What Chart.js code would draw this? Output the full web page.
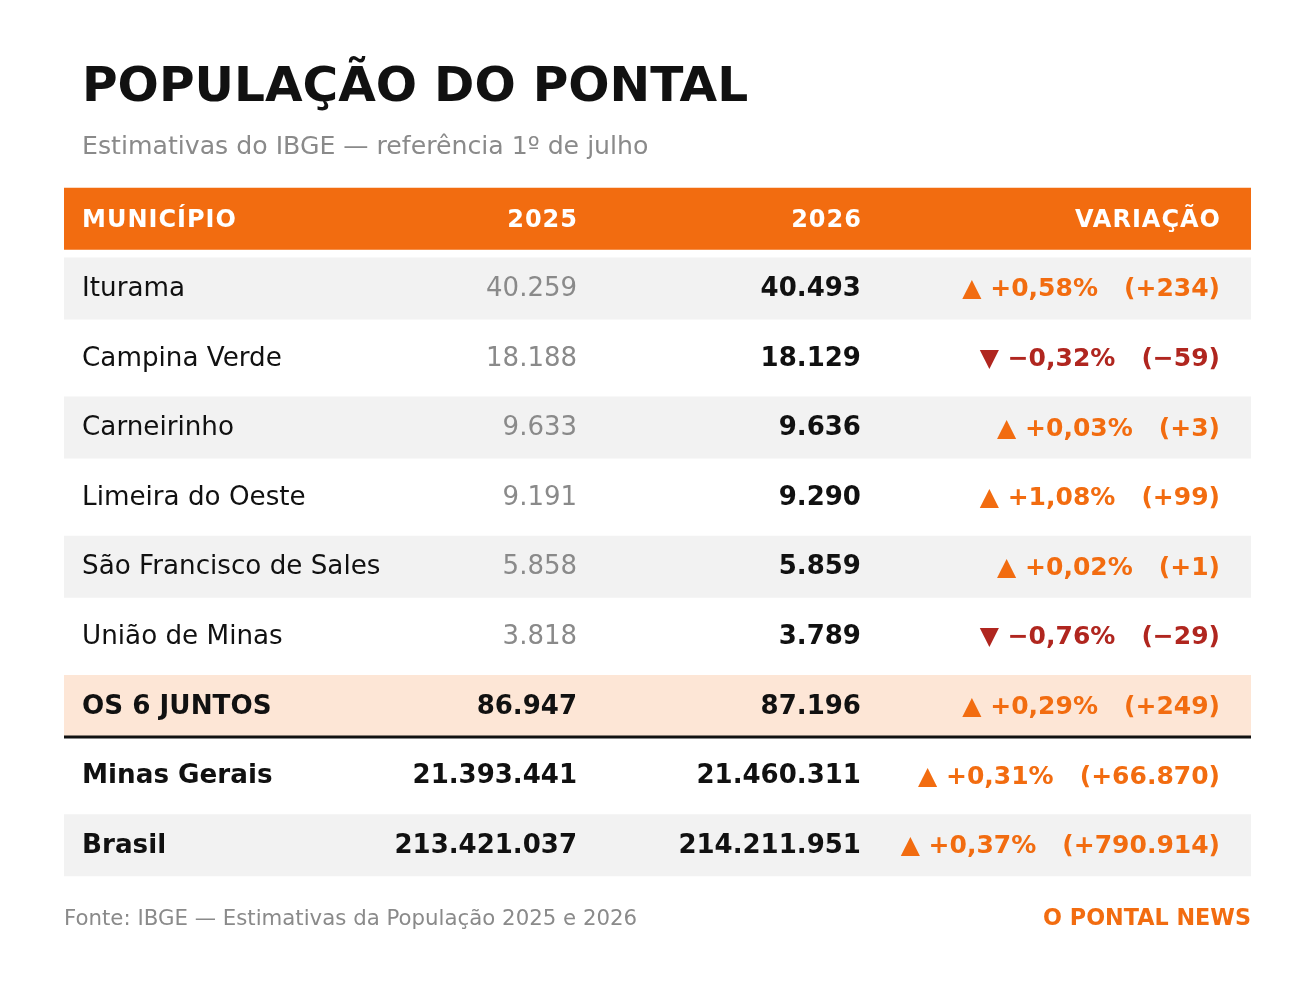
<!DOCTYPE html>
<html>
<head>
<meta charset="utf-8">
<title>População do Pontal</title>
<script src="https://cdn.jsdelivr.net/npm/chart.js@4.4.1/dist/chart.umd.min.js"></script>
<style>
  html, body { margin: 0; padding: 0; background: #fff; }
  #wrap { width: 1315px; height: 1005px; position: relative; }
</style>
</head>
<body>
<div id="wrap"><canvas id="mycanvas"></canvas></div>
<script>
// data
var headers = ['MUNICÍPIO', '2025', '2026', 'VARIAÇÃO'];
var municipios = ['Iturama', 'Campina Verde', 'Carneirinho', 'Limeira do Oeste', 'São Francisco de Sales', 'União de Minas', 'OS 6 JUNTOS', 'Minas Gerais', 'Brasil'];
var pop2025 = [40259, 18188, 9633, 9191, 5858, 3818, 86947, 21393441, 213421037];
var pop2026 = [40493, 18129, 9636, 9290, 5859, 3789, 87196, 21460311, 214211951];
var totalRows = ['OS 6 JUNTOS', 'Minas Gerais', 'Brasil'];

var titulo = 'POPULAÇÃO DO PONTAL';
var subtitulo = 'Estimativas do IBGE — referência 1º de julho';
var fonte = 'Fonte: IBGE — Estimativas da População 2025 e 2026';
var marca = 'O PONTAL NEWS';

var ORANGE = '#f26c10';
var RED = '#b0261f';
var DARK = '#111111';
var GRAY = '#8a8a8a';
var FONT = '"DejaVu Sans", sans-serif';

function fmt(n) {
	return String(Math.abs(n)).replace(/\B(?=(\d{3})+(?!\d))/g, '.');
}

function variacao(i) {
	var d = pop2026[i] - pop2025[i];
	var pct = d / pop2025[i] * 100;
	var sign = d >= 0 ? '+' : '\u2212';
	var arrow = d >= 0 ? '\u25B2' : '\u25BC';
	var p = Math.abs(pct).toFixed(2).replace('.', ',');
	return { text: arrow + ' ' + sign + p + '%   (' + sign + fmt(d) + ')', up: d >= 0 };
}

var rowLabels = ['header'].concat(municipios);
var rowColors = rowLabels.map(function(name, i) {
	if (i === 0) return ORANGE;
	if (name === 'OS 6 JUNTOS') return '#fde6d6';
	return (i % 2 === 1) ? '#f2f2f2' : '#ffffff';
});

// x positions of the columns, as fraction of table width
var colX = [0.0152, 0.4322, 0.6714, 0.9739];
var colAlign = ['left', 'right', 'right', 'right'];

var tablePlugin = {
	id: 'tableText',
	afterDatasetsDraw: function(chart) {
		var ctx = chart.ctx;
		var xs = chart.scales.x;
		var ys = chart.scales.y;
		ctx.save();
		ctx.textBaseline = 'alphabetic';

		// title + subtitle
		ctx.textAlign = 'left';
		ctx.fillStyle = DARK;
		ctx.font = 'bold 48.6px ' + FONT;
		ctx.fillText(titulo, 82, 101);
		ctx.fillStyle = GRAY;
		ctx.font = '25.2px ' + FONT;
		ctx.fillText(subtitulo, 82, 154);

		// header row
		var hy = ys.getPixelForValue(0);
		ctx.fillStyle = '#ffffff';
		ctx.font = 'bold 24px ' + FONT;
		ctx.letterSpacing = '1px';
		headers.forEach(function(h, c) {
			ctx.textAlign = colAlign[c];
			var x = xs.getPixelForValue(colX[c]) + (c > 0 ? 1 : 0);
			ctx.fillText(h, x, hy + 8);
		});
		ctx.letterSpacing = '0px';

		// body rows
		municipios.forEach(function(name, i) {
			var y = ys.getPixelForValue(i + 1);
			var isTotal = totalRows.indexOf(name) >= 0;
			ctx.textAlign = 'left';
			ctx.fillStyle = DARK;
			ctx.font = (isTotal ? 'bold ' : '') + '26.2px ' + FONT;
			ctx.fillText(name, xs.getPixelForValue(colX[0]), y + 7.5);

			ctx.textAlign = 'right';
			ctx.fillStyle = isTotal ? DARK : GRAY;
			ctx.font = (isTotal ? 'bold ' : '') + '26px ' + FONT;
			ctx.fillText(fmt(pop2025[i]), xs.getPixelForValue(colX[1]), y + 7.5);

			ctx.fillStyle = DARK;
			ctx.font = 'bold 26px ' + FONT;
			ctx.fillText(fmt(pop2026[i]), xs.getPixelForValue(colX[2]), y + 7.5);

			var v = variacao(i);
			ctx.fillStyle = v.up ? ORANGE : RED;
			ctx.font = 'bold 25px ' + FONT;
			ctx.fillText(v.text, xs.getPixelForValue(colX[3]), y + 8);
		});

		// rule under the totals of the six
		var k = municipios.indexOf('OS 6 JUNTOS') + 1;
		var bar = chart.getDatasetMeta(0).data[k];
		var ly = bar.y + bar.height / 2;
		ctx.strokeStyle = DARK;
		ctx.lineWidth = 3;
		ctx.beginPath();
		ctx.moveTo(xs.getPixelForValue(0), ly);
		ctx.lineTo(xs.getPixelForValue(1), ly);
		ctx.stroke();

		// footer
		ctx.textAlign = 'left';
		ctx.fillStyle = GRAY;
		ctx.font = '21.3px ' + FONT;
		ctx.fillText(fonte, xs.getPixelForValue(0), 925);
		ctx.textAlign = 'right';
		ctx.fillStyle = ORANGE;
		ctx.font = 'bold 22.3px ' + FONT;
		ctx.fillText(marca, xs.getPixelForValue(1), 925);

		ctx.restore();
	}
};

var ctx = document.getElementById('mycanvas');
var table = new Chart(ctx, {
	type: 'bar',
	data: {
		labels: rowLabels,
		datasets: [{
			data: rowLabels.map(function() { return [0, 1]; }),
			backgroundColor: rowColors,
			borderWidth: 0,
			barPercentage: 0.891,
			categoryPercentage: 1
		}]
	},
	options: {
		indexAxis: 'y',
		responsive: true,
		maintainAspectRatio: false,
		animation: false,
		layout: { padding: { left: 64, right: 64, top: 184, bottom: 125 } },
		scales: {
			x: { display: false, min: 0, max: 1 },
			y: { display: false }
		},
		plugins: {
			legend: { display: false },
			tooltip: { enabled: false },
			title: { display: false }
		}
	},
	plugins: [tablePlugin]
});
</script>
</body>
</html>
